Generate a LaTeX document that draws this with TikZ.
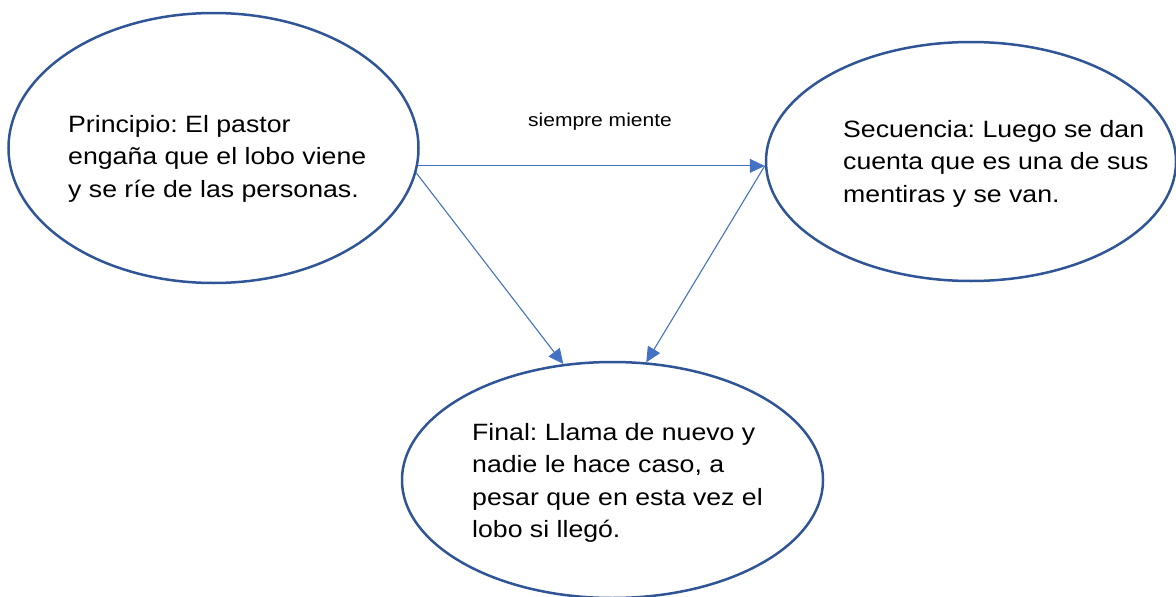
\documentclass[tikz,border=0pt]{standalone}
\usepackage{fontspec}
\setmainfont{Liberation Sans}[FakeStretch=1.13]
\usetikzlibrary{arrows.meta,shapes.geometric}
\definecolor{ellblue}{HTML}{2F5597}
\definecolor{arrblue}{HTML}{4472C4}
\tikzset{
  oval/.style={ellipse, draw=ellblue, line width=2.5pt, inner sep=0pt},
  conn/.style={draw=arrblue, line width=1.1pt, -{Triangle[length=15pt,width=14pt]}},
  txt/.style={anchor=base west, inner sep=0pt, font=\fontsize{23.6}{32.6}\selectfont},
  lbl/.style={inner sep=0pt, font=\fontsize{18.6}{22}\selectfont}
}
\frenchspacing
\begin{document}
\begin{tikzpicture}[x=1pt,y=-1pt]
\useasboundingbox (0,0) rectangle (1176,597);
\node[oval, minimum width=410pt, minimum height=270pt] (e1) at (213.5,148) {};
\node[oval, minimum width=410pt, minimum height=239pt] (e2) at (971,161.5) {};
\node[oval, minimum width=421pt, minimum height=236pt] (e3) at (612.5,480) {};
\node[txt] (t1) at (68,132) {\parbox[t]{400pt}{\frenchspacing Principio: El pastor\\engaña que el lobo viene\\y se ríe de las personas.}};
\node[txt] (t2) at (843,137) {\parbox[t]{400pt}{\frenchspacing Secuencia: Luego se dan\\cuenta que es una de sus\\mentiras y se van.}};
\node[txt] (t3) at (472,440) {\parbox[t]{400pt}{\frenchspacing Final: Llama de nuevo y\\nadie le hace caso, a\\pesar que en esta vez el\\lobo si llegó.}};
\coordinate (h1) at (e1.-5.3);
\coordinate (h2) at (h1 -| e2.west);
\draw[conn] (h1) -- node[lbl, pos=0.525, anchor=base, yshift=39pt] (l1) {siempre miente} (h2);
\draw[conn] (e1.-7.2) -- (e3.113.3);
\draw[conn] (h2) -- (e3.74.6);
\end{tikzpicture}
\end{document}
